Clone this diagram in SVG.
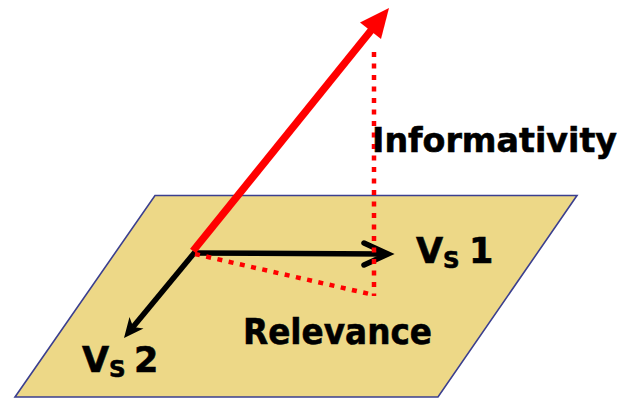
<svg xmlns="http://www.w3.org/2000/svg" width="631" height="398" viewBox="0 0 631 398">
<style>
text{font-family:"DejaVu Sans","Liberation Sans",sans-serif;font-weight:bold;fill:#000;stroke:#000;stroke-width:0.6}
.big{font-size:36px}
.inf{font-size:34.5px}
.lab{font-size:35px}
.sub{font-size:23px}
.dot{fill:none;stroke:#FF0000;stroke-width:4.5;stroke-dasharray:5 6.5}
.blk{fill:none;stroke:#000;stroke-width:5.5}
</style>
<rect width="631" height="398" fill="#fff"/>
<g id="plane">
<polygon points="155,195.5 577,195.5 438,397 15,397" fill="#EDD887" stroke="#3B3F8F" stroke-width="1.6"/>
</g>
<g id="connectors">
<line class="blk" x1="193" y1="253" x2="384" y2="254"/>
<polyline class="blk" points="364,243 388,254 364,265" stroke-linecap="round" stroke-linejoin="miter"/>
<line class="blk" x1="195" y1="252" x2="133" y2="327"/>
<polygon points="124,338 129.5,317 133.2,326.9 143.5,328.5" fill="#000"/>
<line class="dot" x1="374" y1="52" x2="374" y2="296"/>
<line class="dot" x1="195" y1="254" x2="374" y2="295"/>
<line x1="193" y1="251" x2="373" y2="28" stroke="#FF0000" stroke-width="7.5"/>
<polygon points="389,8 381,39 360,22.5" fill="#FF0000"/>
</g>
<g id="label-informativity"><text class="inf" x="372" y="152" textLength="245" lengthAdjust="spacingAndGlyphs">Informativity</text></g>
<g id="label-relevance"><text class="big" x="243" y="344" textLength="189" lengthAdjust="spacingAndGlyphs">Relevance</text></g>
<g id="label-vs1"><text class="lab" x="416" y="263">V</text><text class="sub" x="443" y="268">S</text><text class="lab" x="469" y="263">1</text></g>
<g id="label-vs2"><text class="lab" x="82" y="372">V</text><text class="sub" x="109" y="377">S</text><text class="lab" x="134" y="372">2</text></g>
</svg>
